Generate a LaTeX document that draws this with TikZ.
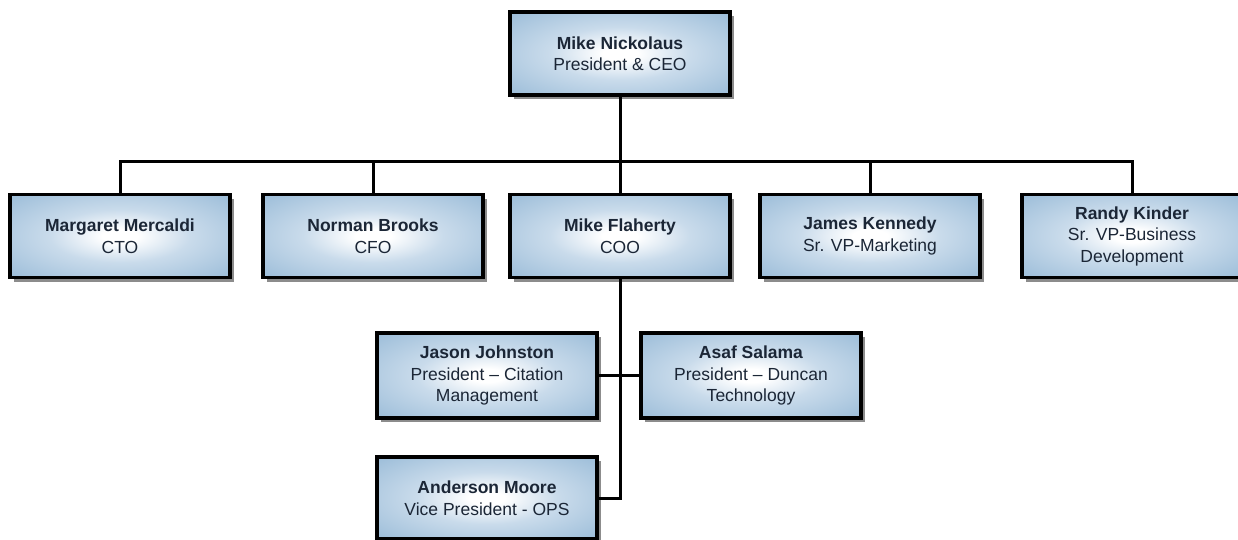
\documentclass[tikz,border=0pt]{standalone}
\usepackage{fontspec}
\setmainfont{Liberation Sans}
\usetikzlibrary{shadows}
\usetikzlibrary{positioning}
\definecolor{boxblue}{HTML}{9FBFDA}
\definecolor{boxmid}{HTML}{C9DBEB}
\definecolor{inkblue}{HTML}{1B2636}
\pgfdeclareradialshading{boxglow}{\pgfpoint{0bp}{0bp}}{%
  color(0bp)=(white); color(4bp)=(white); color(16bp)=(boxmid);
  color(34bp)=(boxblue); color(60bp)=(boxblue)}
\tikzset{person/.style={rectangle,draw=black,line width=3.5pt,shading=boxglow,
  minimum width=220pt, minimum height=83pt, inner sep=0pt, align=center,
  text=inkblue, font=\fontsize{17.5}{21.5}\selectfont,
  drop shadow={shadow xshift=4pt, shadow yshift=-4pt, fill=black!45, opacity=1}},
  link/.style={line width=3pt, line join=miter}}

\begin{document}
\begin{tikzpicture}[x=1pt,y=-1pt]
  \useasboundingbox (0,0) rectangle (1238,540);
  % top level
  \node (ceo) [person] at (620,53.5) {\textbf{Mike Nickolaus}\\President \& CEO};
  % direct reports
  \node (cto) [person] at (120,236) {\textbf{Margaret Mercaldi}\\CTO};
  \node (cfo) [person] at (373,236) {\textbf{Norman Brooks}\\CFO};
  \node (coo) [person] at (620,236) {\textbf{Mike Flaherty}\\COO};
  \node (mkt) [person] at (870,236) {\textbf{James Kennedy}\\Sr. VP-Marketing};
  \node (bizdev) [person] at (1132,236) {\textbf{Randy Kinder}\\Sr. VP-Business\\Development};
  % under the COO
  \node (citation) [person,minimum height=85pt] at (487,375.5) {\textbf{Jason Johnston}\\President – Citation\\Management};
  \node (duncan) [person,minimum height=85pt] at (751,375.5) {\textbf{Asaf Salama}\\President – Duncan\\Technology};
  \node (ops) [person,minimum height=82pt] at (487,498) {\textbf{Anderson Moore}\\Vice President - OPS};

  \coordinate (bus) at (620,162);
  \draw [link] (ceo.south) -- (bus);
  \foreach \n in {cto,cfo,coo,mkt,bizdev}
    \draw [link] (bus) -| (\n.north);
  \draw [link] (coo.south) |- (ops.east);
  \draw [link] (citation.east) -- (duncan.west);
\end{tikzpicture}
\end{document}
